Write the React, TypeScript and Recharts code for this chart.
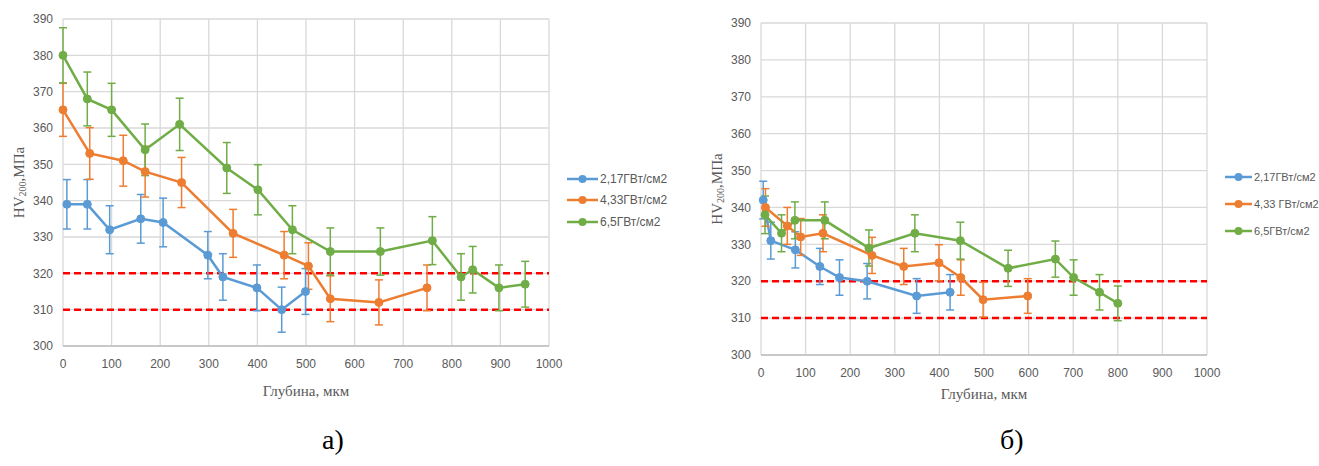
import React from 'react';
import { LineChart, Line, XAxis, YAxis, CartesianGrid, ErrorBar, ReferenceLine, Legend, Label } from 'recharts';

// Общие оси
const xTicks = [0, 100, 200, 300, 400, 500, 600, 700, 800, 900, 1000];
const yTicks = [300, 310, 320, 330, 340, 350, 360, 370, 380, 390];
const limits = [310, 320];

const COLORS = ['#5b9bd5', '#ed7d31', '#70ad47'];

// а) — серии
const aNames = ['2,17ГВт/см2', '4,33ГВт/см2', '6,5ГВт/см2'];
const aBlueX = [8, 50, 96, 160, 206, 298, 329, 399, 450, 499];
const aBlueY = [339, 339, 332, 335, 334, 325, 319, 316, 310, 315];
const aBlueErr = [6.8, 6.8, 6.6, 6.7, 6.7, 6.5, 6.4, 6.3, 6.2, 6.3];
const aOrangeX = [0, 55, 124, 169, 244, 350, 455, 505, 550, 650, 749];
const aOrangeY = [365, 353, 351, 348, 345, 331, 325, 322, 313, 312, 316];
const aOrangeErr = [7.3, 7.1, 7.0, 7.0, 6.9, 6.6, 6.5, 6.4, 6.3, 6.2, 6.3];
const aGreenX = [0, 50, 100, 169, 240, 337, 401, 472, 550, 653, 760, 819, 843, 897, 951];
const aGreenY = [380, 368, 365, 354, 361, 349, 343, 332, 326, 326, 329, 319, 321, 316, 317];
const aGreenErr = [7.6, 7.4, 7.3, 7.1, 7.2, 7.0, 6.9, 6.6, 6.5, 6.5, 6.6, 6.4, 6.4, 6.3, 6.3];

// б) — серии
const bNames = ['2,17ГВт/см2', '4,33 ГВт/см2', '6,5ГВт/см2'];
const bBlueX = [5, 22, 77, 132, 176, 238, 349, 424];
const bBlueY = [342, 331, 328.5, 324, 321, 320, 316, 317];
const bBlueErr = [5.1, 5.0, 4.9, 4.9, 4.8, 4.8, 4.7, 4.8];
const bOrangeX = [10, 59, 89, 139, 249, 320, 399, 448, 498, 598];
const bOrangeY = [340, 335, 332, 333, 327, 324, 325, 321, 315, 316];
const bOrangeErr = [5.1, 5.0, 5.0, 5.0, 4.9, 4.9, 4.9, 4.8, 4.7, 4.7];
const bGreenX = [9, 46, 76, 143, 242, 345, 447, 554, 660, 701, 759, 800];
const bGreenY = [338, 333, 336.5, 336.5, 329, 333, 331, 323.5, 326, 321, 317, 314];
const bGreenErr = [5.1, 5.0, 5.0, 5.0, 4.9, 5.0, 5.0, 4.9, 4.9, 4.8, 4.8, 4.7];

const toRows = (xs: number[], ys: number[], errs: number[]) =>
  xs.map((x, i) => ({ depth: x, hv: ys[i], err: errs[i] }));

const TICK = { fontFamily: '"Liberation Sans", Arial, sans-serif', fontSize: 12, fill: '#595959' };
const SERIF = '"Liberation Serif", "Times New Roman", serif';

const YTitle = (props: any) => {
  const { viewBox } = props;
  const cx = viewBox.x + 19;
  const cy = viewBox.y + viewBox.height / 2;
  return (
    <text
      x={cx}
      y={cy}
      transform={`rotate(-90, ${cx}, ${cy})`}
      textAnchor="middle"
      dominantBaseline="central"
      fontFamily={SERIF}
      fontSize={15}
      fill="#595959"
    >
      HV
      <tspan fontSize={10} dy={3}>200</tspan>
      <tspan dy={-3}>,МПа</tspan>
    </text>
  );
};

const makeLegend = (rowH: number, fs: number, iconW: number) => (props: any) => (
  <div>
    {(props.payload || []).map((e: any) => (
      <div key={e.value} style={{ height: rowH, display: 'flex', alignItems: 'center' }}>
        <svg width={iconW} height={10}>
          <line x1={0} y1={5} x2={iconW} y2={5} stroke={e.color} strokeWidth={2.5} />
          <circle cx={iconW / 2} cy={5} r={4} fill={e.color} />
        </svg>
        <span style={{ marginLeft: 2, fontFamily: '"Liberation Sans", Arial, sans-serif', fontSize: fs, color: '#595959', whiteSpace: 'nowrap' }}>
          {e.value}
        </span>
      </div>
    ))}
  </div>
);

interface PanelProps {
  width: number;
  margin: { top: number; right: number; bottom: number; left: number };
  xAxisHeight: number;
  series: { name: string; rows: { depth: number; hv: number; err: number }[] }[];
  legendLeft: number;
  legendTop: number;
  legendRow: number;
  legendFont: number;
  legendIcon: number;
}

const Panel: React.FC<PanelProps> = ({ width, margin, xAxisHeight, series, legendLeft, legendTop, legendRow, legendFont, legendIcon }) => (
  <LineChart width={width} height={420} margin={margin}>
    <CartesianGrid stroke="#d9d9d9" strokeWidth={1.3} />
    <XAxis
      type="number"
      dataKey="depth"
      domain={[0, 1000]}
      ticks={xTicks}
      interval={0}
      tick={TICK}
      tickLine={false}
      tickMargin={7}
      axisLine={{ stroke: '#bfbfbf', strokeWidth: 1.5 }}
      height={xAxisHeight}
    >
      <Label value="Глубина, мкм" position="insideBottom" offset={0} style={{ fontFamily: SERIF, fontSize: 15, fill: '#595959' }} />
    </XAxis>
    <YAxis
      type="number"
      domain={[300, 390]}
      ticks={yTicks}
      interval={0}
      tick={TICK}
      tickLine={false}
      tickMargin={4}
      axisLine={false}
      width={63}
    >
      <Label content={YTitle} />
    </YAxis>
    {limits.map((v) => (
      <ReferenceLine key={v} y={v} stroke="#ff0000" strokeWidth={2.5} strokeDasharray="7 4" />
    ))}
    {series.map((s, i) => (
      <Line
        key={s.name}
        name={s.name}
        data={s.rows}
        dataKey="hv"
        stroke={COLORS[i]}
        strokeWidth={2.5}
        dot={{ r: 4, fill: COLORS[i], stroke: COLORS[i], strokeWidth: 1 }}
        activeDot={false}
        isAnimationActive={false}
      >
        <ErrorBar dataKey="err" direction="y" width={4} stroke={COLORS[i]} strokeWidth={1.5} />
      </Line>
    ))}
    <Legend
      layout="vertical"
      align="center"
      verticalAlign="middle"
      content={makeLegend(legendRow, legendFont, legendIcon)}
      wrapperStyle={{ left: legendLeft, top: legendTop, width: width - legendLeft, height: legendRow * 3 }}
    />
  </LineChart>
);

const App: React.FC = () => {
  const aSeries = [
    { name: aNames[0], rows: toRows(aBlueX, aBlueY, aBlueErr) },
    { name: aNames[1], rows: toRows(aOrangeX, aOrangeY, aOrangeErr) },
    { name: aNames[2], rows: toRows(aGreenX, aGreenY, aGreenErr) },
  ];
  const bSeries = [
    { name: bNames[0], rows: toRows(bBlueX, bBlueY, bBlueErr) },
    { name: bNames[1], rows: toRows(bOrangeX, bOrangeY, bOrangeErr) },
    { name: bNames[2], rows: toRows(bGreenX, bGreenY, bGreenErr) },
  ];

  return (
    <div style={{ position: 'absolute', left: 0, top: 0, width: 1319, height: 466, background: '#fff', overflow: 'hidden' }}>
      <div style={{ position: 'absolute', left: 0, top: 0 }}>
        <Panel
          width={680}
          margin={{ top: 19, right: 131, bottom: 24, left: 0 }}
          xAxisHeight={50}
          series={aSeries}
          legendLeft={567}
          legendTop={168}
          legendRow={21.5}
          legendFont={12}
          legendIcon={31}
        />
      </div>
      <div style={{ position: 'absolute', left: 680, top: 0 }}>
        <Panel
          width={639}
          margin={{ top: 23, right: 112, bottom: 21, left: 18 }}
          xAxisHeight={44}
          series={bSeries}
          legendLeft={545}
          legendTop={163.5}
          legendRow={27}
          legendFont={11}
          legendIcon={27}
        />
      </div>
      <div style={{ position: 'absolute', left: 322, top: 424, fontFamily: SERIF, fontSize: 28, color: '#000' }}>а)</div>
      <div style={{ position: 'absolute', left: 1000, top: 424, fontFamily: SERIF, fontSize: 28, color: '#000' }}>б)</div>
    </div>
  );
};

export default App;
